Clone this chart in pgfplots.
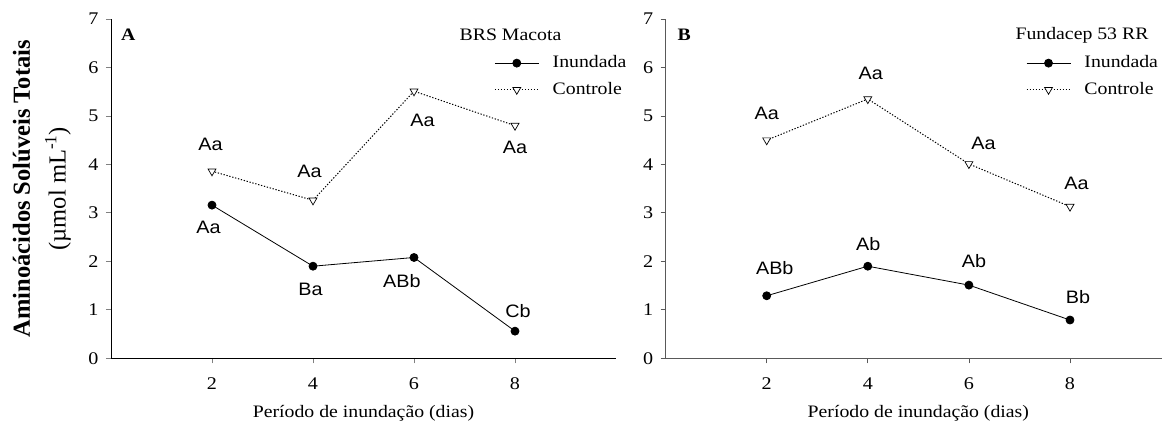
\documentclass[border=0pt]{standalone}
\usepackage{fontspec}
\setmainfont{Liberation Serif}[FakeStretch=1.13]
\newfontfamily\arialf{Liberation Sans}[FakeStretch=1.1]
\newfontfamily\ylabf{Liberation Serif}
\usepackage{pgfplots}
\pgfplotsset{compat=1.18}

\pgfplotstableread{
x inund contr
2 3.16 3.86
4 1.90 3.26
6 2.08 5.51
8 0.56 4.80
}\tabA
\pgfplotstableread{
x inund contr
2 1.29 4.50
4 1.90 5.35
6 1.51 4.01
8 0.79 3.13
}\tabB

\tikzset{lab/.style={font=\arialf\fontsize{18}{20}\selectfont, inner sep=0pt, anchor=center}}
\pgfplotsset{
 panel/.style={
  scale only axis, width=505pt, height=339.3pt,
  xmin=0, xmax=10, ymin=0, ymax=7,
  axis x line*=bottom, axis y line*=left,
  axis line style={-, line width=0.8pt},
  xtick={2,4,6,8}, ytick={0,1,...,7},
  tick align=outside, major tick length=5pt,
  tick style={line width=0.8pt},
  ticklabel style={font=\fontsize{17.8}{20}\selectfont},
  yticklabel style={xshift=-4pt},
  xticklabel style={yshift=-11pt},
  /pgf/number format/assume math mode=true,
  clip=false,
  xlabel={Período de inundação (dias)},
  xlabel style={font=\fontsize{17.5}{20}\selectfont, at={(axis description cs:0.5,-0.173)}, anchor=base},
  legend cell align=left,
  legend image code/.code={\draw[mark repeat=2,mark phase=2,##1] plot coordinates {(0pt,0pt)(22pt,0pt)(44pt,0pt)}; \path (57.4pt,0pt);},
  legend style={draw=none, fill=none, inner sep=0pt, outer sep=0pt, row sep=9.6pt,
    nodes={inner sep=0pt, text height=13pt, text depth=4pt},
    font=\fontsize{17.5}{20}\selectfont},
 },
 inund/.style={black, line width=0.8pt, mark=*, mark size=4pt, mark options={solid, fill=black}},
 contr/.style={black, line width=1pt, dash pattern=on 1.3pt off 1.7pt, mark=triangle*, mark size=4.6pt, mark options={solid, fill=white, rotate=180, line width=0.7pt}},
}

\begin{document}
\begin{tikzpicture}
\begin{axis}[panel, at={(111pt,67.7pt)}, anchor=south west,
  ylabel={\textbf{Aminoácidos Solúveis Totais}\\(µmol mL\textsuperscript{-1})},
  ylabel style={font=\ylabf\fontsize{24.5}{35.6}\selectfont, align=center, at={(axis description cs:-0.137,0.5)}, anchor=center},
  legend style={at={(axis description cs:0.759,0.895)}, anchor=north west}]
\addplot[inund] table[x=x, y=inund] {\tabA};
\addlegendentry{Inundada}
\addplot[contr] table[x=x, y=contr] {\tabA};
\addlegendentry{Controle}
\node[lab] at (axis cs:1.97,4.41) {Aa};
\node[lab] at (axis cs:1.93,2.70) {Aa};
\node[lab] at (axis cs:3.93,3.86) {Aa};
\node[lab] at (axis cs:3.95,1.43) {Ba};
\node[lab] at (axis cs:6.17,4.91) {Aa};
\node[lab] at (axis cs:5.76,1.60) {ABb};
\node[lab] at (axis cs:8.00,4.35) {Aa};
\node[lab] at (axis cs:8.06,0.98) {Cb};
\end{axis}
\begin{axis}[panel, at={(665.6pt,67.7pt)}, anchor=south west, width=505.5pt,
  axis line style={black!65}, tick style={black!65},
  legend style={at={(axis description cs:0.713,0.895)}, anchor=north west}]
\addplot[inund] table[x=x, y=inund] {\tabB};
\addlegendentry{Inundada}
\addplot[contr] table[x=x, y=contr] {\tabB};
\addlegendentry{Controle}
\node[lab] at (axis cs:2.00,5.05) {Aa};
\node[lab] at (axis cs:2.16,1.86) {ABb};
\node[lab] at (axis cs:4.06,5.87) {Aa};
\node[lab] at (axis cs:4.01,2.36) {Ab};
\node[lab] at (axis cs:6.29,4.43) {Aa};
\node[lab] at (axis cs:6.10,2.00) {Ab};
\node[lab] at (axis cs:8.13,3.61) {Aa};
\node[lab] at (axis cs:8.16,1.26) {Bb};
\end{axis}
\node[font=\fontsize{17.5}{20}\selectfont\bfseries, inner sep=0pt] at (128.3pt,391pt) {A};
\node[font=\fontsize{17.5}{20}\selectfont\bfseries, inner sep=0pt] at (684.3pt,391.5pt) {B};
\node[font=\fontsize{17.5}{20}\selectfont, inner sep=0pt] at (510.5pt,391pt) {BRS Macota};
\node[font=\fontsize{17.5}{20}\selectfont, inner sep=0pt] at (1082pt,390.5pt) {Fundacep 53 RR};
\pgfresetboundingbox
\path[use as bounding box] (0pt,0pt) rectangle (1162pt,426pt);
\end{tikzpicture}
\end{document}
